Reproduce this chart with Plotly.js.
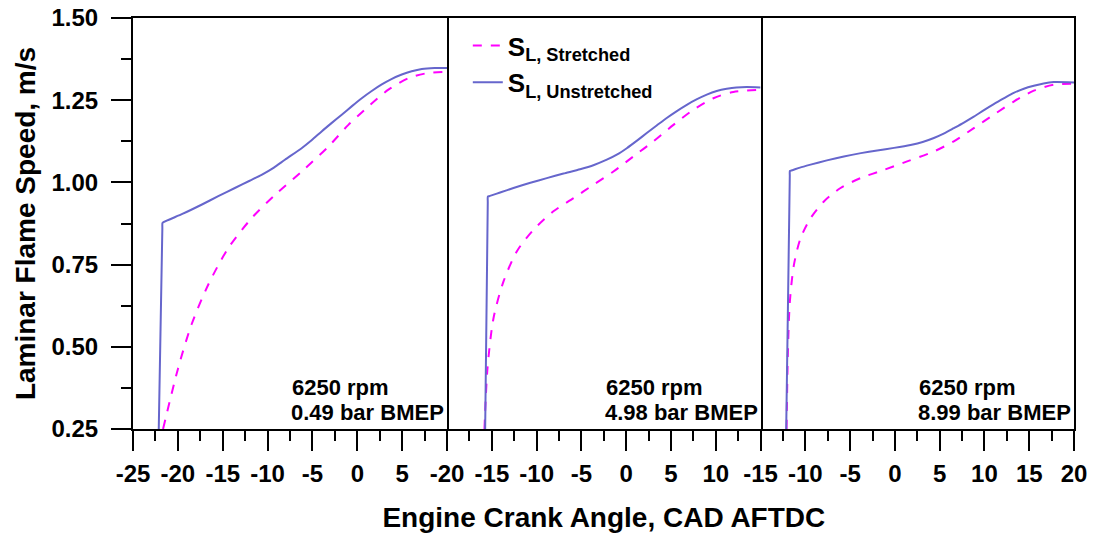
<!DOCTYPE html>
<html>
<head>
<meta charset="utf-8">
<script src="https://cdn.plot.ly/plotly-3.0.1.min.js"></script>
<style>html,body{margin:0;padding:0;background:#fff;}#chart{width:1094px;height:533px;}</style>
</head>
<body>
<div id="chart"></div>
<script>
// Panel 1: 6250 rpm, 0.49 bar BMEP
const p1UnstrX = [-22.13, -21.73, -21.72, -21.6, -19.5, -17.37, -15.5, -13.65, -12.0, -10.67, -9.3, -8.07, -6.21, -5.1, -3.98, -2.85, -1.74, -0.6, 0.49, 1.6, 2.72, 3.85, 4.95, 6.05, 7.18, 8.6, 10.0];
const p1UnstrY = [0.25, 0.86, 0.876, 0.879, 0.904, 0.932, 0.958, 0.983, 1.005, 1.023, 1.045, 1.069, 1.104, 1.128, 1.155, 1.181, 1.206, 1.232, 1.256, 1.278, 1.298, 1.315, 1.328, 1.338, 1.345, 1.348, 1.348];
const p1StrX = [-21.65, -19.97, -18.49, -16.63, -14.39, -11.79, -9.18, -6.21, -3.23, -1.0, 1.23, 3.46, 5.7, 7.93, 10.0];
const p1StrY = [0.25, 0.435, 0.567, 0.688, 0.80, 0.891, 0.962, 1.033, 1.109, 1.175, 1.231, 1.282, 1.317, 1.333, 1.336];

// Panel 2: 6250 rpm, 4.98 bar BMEP
const p2UnstrX = [-15.75, -15.46, -15.45, -15.3, -14.0, -12.59, -10.7, -8.87, -7.0, -5.15, -3.6, -2.17, -1.0, 0.06, 1.2, 2.29, 3.4, 4.52, 5.65, 6.76, 7.9, 8.99, 10.1, 11.22, 12.3, 13.45, 15.0];
const p2UnstrY = [0.25, 0.94, 0.957, 0.958, 0.970, 0.983, 0.999, 1.013, 1.027, 1.040, 1.053, 1.069, 1.085, 1.104, 1.127, 1.150, 1.173, 1.196, 1.217, 1.236, 1.253, 1.267, 1.278, 1.285, 1.289, 1.290, 1.289];
const p2StrX = [-15.83, -15.49, -14.82, -13.71, -12.22, -10.36, -8.13, -5.89, -3.66, -1.43, 0.8, 3.04, 5.27, 7.5, 9.73, 11.96, 15.0];
const p2StrY = [0.25, 0.435, 0.587, 0.698, 0.790, 0.856, 0.912, 0.952, 0.993, 1.033, 1.079, 1.125, 1.175, 1.221, 1.256, 1.275, 1.282];

// Panel 3: 6250 rpm, 8.99 bar BMEP
const p3UnstrX = [-12.14, -11.74, -11.73, -11.58, -10.6, -9.42, -7.6, -5.70, -3.8, -1.98, -0.1, 1.74, 3.1, 4.35, 5.5, 6.58, 7.7, 8.81, 9.9, 11.04, 12.2, 13.27, 14.4, 15.51, 16.6, 17.74, 20.0];
const p3UnstrY = [0.25, 1.02, 1.035, 1.036, 1.045, 1.054, 1.067, 1.079, 1.089, 1.097, 1.105, 1.114, 1.123, 1.135, 1.149, 1.165, 1.182, 1.200, 1.219, 1.238, 1.256, 1.272, 1.285, 1.294, 1.301, 1.305, 1.304];
const p3StrX = [-12.10, -11.95, -11.73, -11.28, -10.54, -9.42, -7.93, -6.07, -3.84, -1.24, 1.37, 4.35, 6.58, 8.81, 11.04, 13.27, 15.51, 17.74, 20.0];
const p3StrY = [0.25, 0.485, 0.638, 0.749, 0.830, 0.891, 0.942, 0.983, 1.013, 1.038, 1.064, 1.094, 1.125, 1.165, 1.206, 1.246, 1.279, 1.297, 1.300];

const panelLine1 = ["6250 rpm", "6250 rpm", "6250 rpm"];
const panelLine2 = ["0.49 bar BMEP", "4.98 bar BMEP", "8.99 bar BMEP"];
const xRanges = [[-25, 10], [-20, 15], [-15, 20]];
const xTickVals = [[-25, -20, -15, -10, -5, 0, 5], [-20, -15, -10, -5, 0, 5, 10], [-15, -10, -5, 0, 5, 10, 15, 20]];
const xTickText = [["-25", "-20", "-15", "-10", "-5", "0", "5"], ["-20", "-15", "-10", "-5", "0", "5", "10"], ["-15", "-10", "-5", "0", "5", "10", "15", "20"]];
const yTickVals = [0.25, 0.50, 0.75, 1.00, 1.25, 1.50];
const yTickText = ["0.25", "0.50", "0.75", "1.00", "1.25", "1.50"];
const seriesNames = ["S<sub>L, Stretched</sub>", "S<sub>L, Unstretched</sub>"];

const strColor = "#ff00ff";
const unstrColor = "#6666cc";
const FONT = "Liberation Sans, Arial, sans-serif";

const panels = [
  {ux: p1UnstrX, uy: p1UnstrY, sx: p1StrX, sy: p1StrY},
  {ux: p2UnstrX, uy: p2UnstrY, sx: p2StrX, sy: p2StrY},
  {ux: p3UnstrX, uy: p3UnstrY, sx: p3StrX, sy: p3StrY}
];

const traces = [];
panels.forEach((p, i) => {
  const xa = i === 0 ? "x" : "x" + (i + 1);
  const ya = i === 0 ? "y" : "y" + (i + 1);
  traces.push({
    x: p.sx, y: p.sy, xaxis: xa, yaxis: ya, mode: "lines", type: "scatter",
    name: seriesNames[0], legendgroup: "s", showlegend: i === 0,
    line: {color: strColor, width: 2, dash: "9px,9px", shape: "spline", smoothing: 0.8}
  });
  traces.push({
    x: p.ux, y: p.uy, xaxis: xa, yaxis: ya, mode: "lines", type: "scatter",
    name: seriesNames[1], legendgroup: "u", showlegend: i === 0,
    line: {color: unstrColor, width: 2, shape: "spline", smoothing: 0.6}
  });
});

const W = 1094, L = 133.3, R = 1074;
const plotW = R - L;
const b1 = (447.3 - L) / plotW, b2 = (760.7 - L) / plotW;
const domains = [[0, b1], [b1, b2], [b2, 1]];

const tickFont = {family: FONT, size: 24, color: "#000", weight: "bold"};

function xaxisDef(i) {
  const d = {
    domain: domains[i], range: xRanges[i], anchor: i === 0 ? "y" : "y" + (i + 1),
    tickmode: "array", tickvals: xTickVals[i], ticktext: xTickText[i],
    ticks: "outside", ticklen: 20, tickwidth: 2, tickcolor: "#000", ticklabelstandoff: 2,
    minor: {dtick: 2.5, tick0: 0, ticks: "outside", ticklen: 10, tickwidth: 2, tickcolor: "#000", showgrid: false},
    showline: true, linewidth: 2, linecolor: "#000", mirror: true,
    showgrid: false, zeroline: false, tickfont: tickFont, fixedrange: true
  };
  if (i === 1) {
    d.title = {text: "Engine Crank Angle, CAD AFTDC", font: {family: FONT, size: 28, color: "#000", weight: "bold"}, standoff: 22};
  }
  return d;
}
function yaxisDef(i) {
  const d = {
    range: [0.25, 1.5], anchor: i === 0 ? "x" : "x" + (i + 1),
    showgrid: false, zeroline: false, fixedrange: true, linecolor: "#000", linewidth: 2
  };
  if (i === 0) {
    Object.assign(d, {
      showline: true, mirror: true,
      tickmode: "array", tickvals: yTickVals, ticktext: yTickText,
      ticks: "outside", ticklen: 20, tickwidth: 2, tickcolor: "#000", ticklabelstandoff: 8,
      minor: {dtick: 0.125, tick0: 0.25, ticks: "outside", ticklen: 10, tickwidth: 2, tickcolor: "#000", showgrid: false},
      tickfont: tickFont,
      title: {text: "Laminar Flame Speed, m/s", font: {family: FONT, size: 28, color: "#000", weight: "bold"}, standoff: 8}
    });
  } else {
    Object.assign(d, {showline: true, mirror: false, side: "right", showticklabels: false, ticks: ""});
  }
  return d;
}

const annFont = {family: FONT, size: 22, color: "#000", weight: "bold"};
const annotations = [];
xRanges.forEach((r, i) => {
  const xref = i === 0 ? "x" : "x" + (i + 1), yref = i === 0 ? "y" : "y" + (i + 1);
  annotations.push({text: panelLine2[i], xref: xref, yref: yref, x: r[1], y: 0.25,
    xanchor: "right", yanchor: "bottom", xshift: -1, yshift: 2, showarrow: false, font: annFont});
  annotations.push({text: panelLine1[i], xref: xref, yref: yref, x: r[1], y: 0.25,
    xanchor: "left", yanchor: "bottom", xshift: 0, yshift: 27, showarrow: false, font: annFont});
});

const layout = {
  width: W, height: 533,
  margin: {l: L, r: W - R, t: 18, b: 104},
  paper_bgcolor: "#fff", plot_bgcolor: "#fff",
  font: {family: FONT, color: "#000"},
  showlegend: true,
  legend: {
    x: (468 - L) / plotW, y: 0.99, xanchor: "left", yanchor: "top",
    bgcolor: "rgba(0,0,0,0)", borderwidth: 0, tracegroupgap: 0,
    font: {family: FONT, size: 26, color: "#000", weight: "bold"}
  },
  xaxis: xaxisDef(0), xaxis2: xaxisDef(1), xaxis3: xaxisDef(2),
  yaxis: yaxisDef(0), yaxis2: yaxisDef(1), yaxis3: yaxisDef(2),
  annotations: annotations
};

Plotly.newPlot("chart", traces, layout, {displayModeBar: false, staticPlot: true}).then(gd => {
  // align the first text line's left edge with the second line's left edge
  const nodes = gd.querySelectorAll(".annotation");
  const upd = {};
  for (let i = 0; i < xRanges.length; i++) {
    const w2 = nodes[2 * i].getBoundingClientRect().width;
    upd["annotations[" + (2 * i + 1) + "].xshift"] = -1 - w2;
  }
  return Plotly.relayout(gd, upd);
});
</script>
</body>
</html>
